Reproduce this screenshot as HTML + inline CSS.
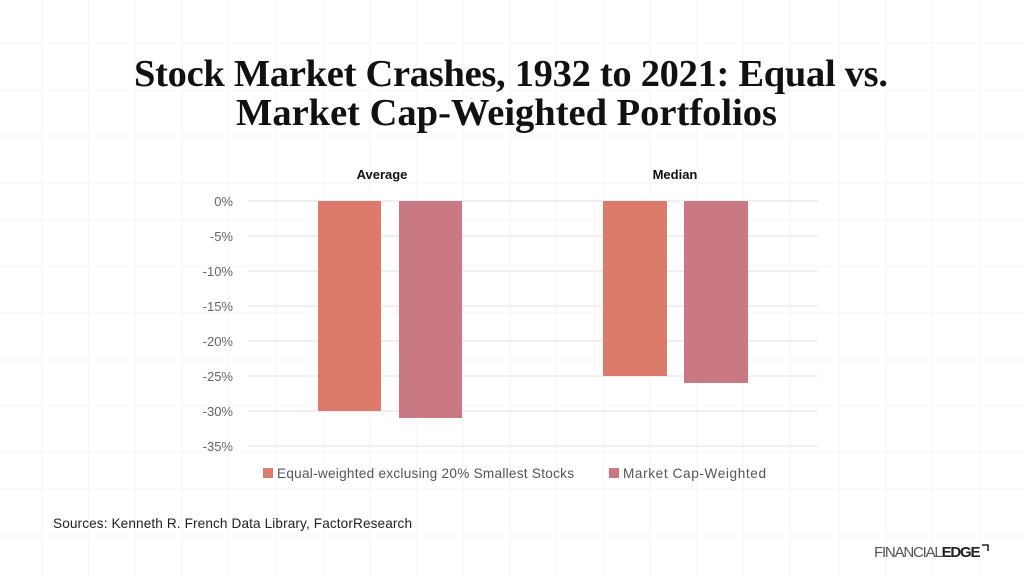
<!DOCTYPE html>
<html><head><meta charset="utf-8"><style>
html,body{margin:0;padding:0;width:1024px;height:576px;overflow:hidden;background:#fff;font-family:"Liberation Sans",sans-serif}
</style></head><body>
<svg width="1024" height="576" viewBox="0 0 1024 576" xmlns="http://www.w3.org/2000/svg">
<g stroke="#f6f6f6" stroke-width="1">
<line x1="42" y1="0" x2="42" y2="576"/><line x1="88.5" y1="0" x2="88.5" y2="576"/>
<line x1="135" y1="0" x2="135" y2="576"/><line x1="182" y1="0" x2="182" y2="576"/>
<line x1="229" y1="0" x2="229" y2="576"/><line x1="277" y1="0" x2="277" y2="576"/>
<line x1="323" y1="0" x2="323" y2="576"/><line x1="370" y1="0" x2="370" y2="576"/>
<line x1="417" y1="0" x2="417" y2="576"/><line x1="463" y1="0" x2="463" y2="576"/>
<line x1="510" y1="0" x2="510" y2="576"/><line x1="557" y1="0" x2="557" y2="576"/>
<line x1="603" y1="0" x2="603" y2="576"/><line x1="650" y1="0" x2="650" y2="576"/>
<line x1="697" y1="0" x2="697" y2="576"/><line x1="743" y1="0" x2="743" y2="576"/>
<line x1="790" y1="0" x2="790" y2="576"/><line x1="839" y1="0" x2="839" y2="576"/>
<line x1="886" y1="0" x2="886" y2="576"/><line x1="932" y1="0" x2="932" y2="576"/>
<line x1="979" y1="0" x2="979" y2="576"/>
<line x1="0" y1="43" x2="1024" y2="43"/><line x1="0" y1="90" x2="1024" y2="90"/>
<line x1="0" y1="136" x2="1024" y2="136"/><line x1="0" y1="183" x2="1024" y2="183"/>
<line x1="0" y1="220" x2="1024" y2="220"/><line x1="0" y1="266" x2="1024" y2="266"/>
<line x1="0" y1="313" x2="1024" y2="313"/><line x1="0" y1="360" x2="1024" y2="360"/>
<line x1="0" y1="406" x2="1024" y2="406"/><line x1="0" y1="452" x2="1024" y2="452"/>
<line x1="0" y1="489" x2="1024" y2="489"/><line x1="0" y1="536" x2="1024" y2="536"/>
</g>
<g font-family="Liberation Serif, serif" font-weight="bold" font-size="38.5" fill="#111">
<text x="134" y="86" textLength="754">Stock Market Crashes, 1932 to 2021: Equal vs.</text>
<text x="236" y="125" textLength="541">Market Cap-Weighted Portfolios</text>
</g>
<g font-size="13" font-weight="bold" fill="#111" text-anchor="middle">
<text x="382" y="179">Average</text><text x="675" y="179">Median</text>
</g>
<g stroke="#e2e2e2" stroke-width="1">
<line x1="248" y1="201" x2="818" y2="201"/><line x1="248" y1="236" x2="818" y2="236"/>
<line x1="248" y1="271" x2="818" y2="271"/><line x1="248" y1="306" x2="818" y2="306"/>
<line x1="248" y1="341" x2="818" y2="341"/><line x1="248" y1="376" x2="818" y2="376"/>
<line x1="248" y1="411" x2="818" y2="411"/><line x1="248" y1="446" x2="818" y2="446"/>
</g>
<g font-size="13" fill="#666" text-anchor="end">
<text x="233" y="206">0%</text><text x="233" y="241">-5%</text><text x="233" y="276">-10%</text>
<text x="233" y="311">-15%</text><text x="233" y="346">-20%</text><text x="233" y="381">-25%</text>
<text x="233" y="416">-30%</text><text x="233" y="451">-35%</text>
</g>
<rect x="318" y="201" width="63" height="210" fill="#dc7b6b"/>
<rect x="399" y="201" width="63" height="217" fill="#cb7885"/>
<rect x="603" y="201" width="64" height="175" fill="#dc7b6b"/>
<rect x="684" y="201" width="64" height="182" fill="#cb7885"/>
<rect x="263" y="468" width="10" height="10" fill="#dc7b6b"/>
<rect x="609" y="468" width="10" height="10" fill="#cb7885"/>
<g font-size="13.6" fill="#555">
<text x="277" y="478" textLength="297">Equal-weighted exclusing 20% Smallest Stocks</text>
<text x="623" y="478" textLength="143">Market Cap-Weighted</text>
</g>
<text x="53" y="528" font-size="13.6" fill="#222" textLength="359">Sources: Kenneth R. French Data Library, FactorResearch</text>
<text x="874" y="557" font-size="15" fill="#555" letter-spacing="-1.2">FINANCIAL<tspan fill="#222" font-weight="bold">EDGE</tspan></text>
<path d="M982 545 h6 v6" stroke="#222" stroke-width="1.6" fill="none"/>
</svg>
</body></html>
